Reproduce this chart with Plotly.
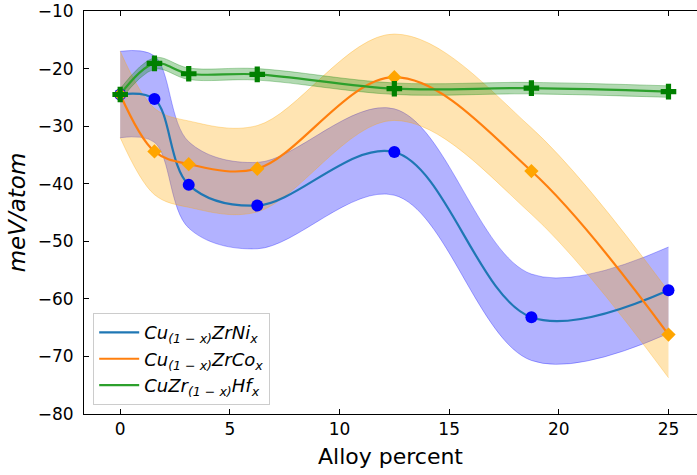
import plotly.graph_objects as go

# Alloy fraction (percent) at which each composition was computed
alloy_pct = [0, 1.5625, 3.125, 6.25, 12.5, 18.75, 25]

# Formation energies (meV/atom)
ni_energy = [-24.5, -25.3, -40.2, -43.8, -34.5, -63.2, -58.5]
co_energy = [-24.5, -34.4, -36.6, -37.4, -21.5, -37.8, -66.2]
hf_energy = [-24.5, -19.1, -20.9, -21.0, -23.5, -23.4, -24.0]

# Uncertainty half-widths (meV/atom)
ni_err = [7.5, 7.5, 7.5, 7.5, 7.5, 7.5, 7.5]
co_err = [7.5, 7.5, 7.5, 7.5, 7.5, 7.5, 7.5]
hf_err = [1.0, 1.0, 1.0, 1.0, 1.0, 1.0, 1.0]

x_ticks = [0, 5, 10, 15, 20, 25]
y_ticks = [-80, -70, -60, -50, -40, -30, -20, -10]
y_tick_text = ["\u221280", "\u221270", "\u221260", "\u221250",
               "\u221240", "\u221230", "\u221220", "\u221210"]

series = [
    dict(name="<i>Cu<sub>(1 \u2212 x)</sub>ZrNi<sub>x</sub></i>", y=ni_energy, err=ni_err,
         line="#1f77b4", band="rgba(0,0,255,0.3)", mcolor="#0000ff",
         symbol="circle", msize=12),
    dict(name="<i>Cu<sub>(1 \u2212 x)</sub>ZrCo<sub>x</sub></i>", y=co_energy, err=co_err,
         line="#ff7f0e", band="rgba(255,165,0,0.3)", mcolor="#ffa500",
         symbol="diamond", msize=11),
    dict(name="<i>CuZr<sub>(1 \u2212 x)</sub>Hf<sub>x</sub></i>", y=hf_energy, err=hf_err,
         line="#2ca02c", band="rgba(0,128,0,0.3)", mcolor="#008000",
         symbol="cross", msize=13),
]

SMOOTH = 1.0
fig = go.Figure()

# uncertainty bands
for s in series:
    lower = [v - e for v, e in zip(s["y"], s["err"])]
    upper = [v + e for v, e in zip(s["y"], s["err"])]
    fig.add_trace(go.Scatter(
        x=alloy_pct, y=lower, mode="lines",
        line=dict(color=s["band"], width=1, shape="spline", smoothing=SMOOTH),
        showlegend=False, hoverinfo="skip"))
    fig.add_trace(go.Scatter(
        x=alloy_pct, y=upper, mode="lines", fill="tonexty", fillcolor=s["band"],
        line=dict(color=s["band"], width=1, shape="spline", smoothing=SMOOTH),
        showlegend=False, hoverinfo="skip"))

# smooth fitted curves (legend entries)
for s in series:
    fig.add_trace(go.Scatter(
        x=alloy_pct, y=s["y"], mode="lines", name=s["name"],
        line=dict(color=s["line"], width=2.2, shape="spline", smoothing=SMOOTH)))

# computed points
for s in series:
    fig.add_trace(go.Scatter(
        x=alloy_pct, y=s["y"], mode="markers",
        marker=dict(symbol=s["symbol"], size=s["msize"], color=s["mcolor"],
                    line=dict(width=0)),
        showlegend=False))

font_family = "DejaVu Sans"
fig.update_layout(
    width=697, height=475,
    margin=dict(l=84, r=0, t=11, b=61),
    plot_bgcolor="white", paper_bgcolor="white",
    font=dict(family=font_family, size=17, color="black"),
    legend=dict(
        x=0.015, y=0.022, xanchor="left", yanchor="bottom",
        traceorder="normal",
        bgcolor="rgba(255,255,255,0.8)", bordercolor="#cccccc", borderwidth=1,
        font=dict(family=font_family, size=18, color="black"),
        tracegroupgap=0, itemwidth=40,
    ),
    xaxis=dict(
        range=[-1.65, 26.3], tickvals=x_ticks,
        showline=True, linecolor="black", linewidth=1, mirror="ticks",
        ticks="inside", ticklen=5, tickwidth=1, tickcolor="black",
        showgrid=False, zeroline=False,
        tickfont=dict(size=17),
        title=dict(text="Alloy percent", font=dict(size=22), standoff=10),
    ),
    yaxis=dict(
        range=[-80, -10], tickvals=y_ticks, ticktext=y_tick_text,
        showline=True, linecolor="black", linewidth=1,
        ticks="inside", ticklen=5, tickwidth=1, tickcolor="black",
        ticklabelstandoff=6,
        showgrid=False, zeroline=False,
        tickfont=dict(size=17),
        title=dict(text="<i>meV/atom</i>", font=dict(size=23), standoff=5),
    ),
)

fig.write_html("out.html")
